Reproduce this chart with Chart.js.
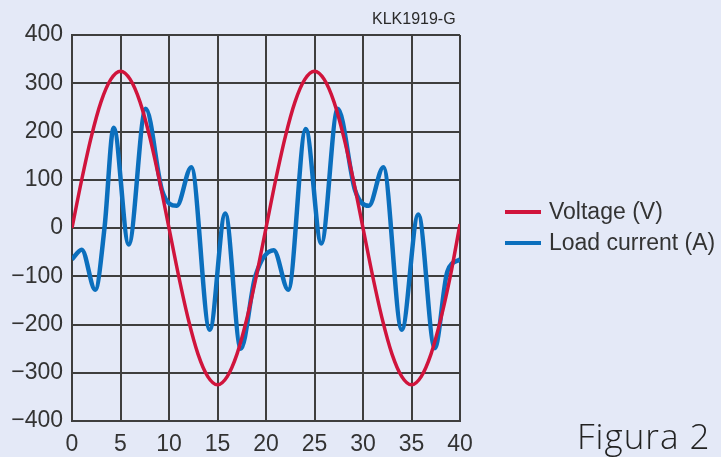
<!DOCTYPE html>
<html>
<head>
<meta charset="utf-8">
<script src="https://cdn.jsdelivr.net/npm/chart.js@4.4.0/dist/chart.umd.min.js"></script>
<style>
  html, body { margin: 0; padding: 0; background: #e4e9f7; }
  #wrap { position: relative; width: 721px; height: 457px; overflow: hidden; }
  canvas { position: absolute; left: 0; top: 0; }
  .txt { position: absolute; font-family: "Liberation Sans", Arial, Helvetica, sans-serif; color: #333; white-space: nowrap; }
  .key { position: absolute; width: 36px; height: 4px; }
</style>
</head>
<body>
<div id="wrap">
  <canvas id="chart" width="721" height="457"></canvas>
  <div class="txt" style="left:372px; top:10px; font-size:16px; color:#2a2a2a;">KLK1919-G</div>
  <div class="key" style="left:505px; top:210px; background:#d0143c;"></div>
  <div class="txt" style="left:549px; top:198px; font-size:23px;">Voltage (V)</div>
  <div class="key" style="left:505px; top:241px; background:#0b6fbd;"></div>
  <div class="txt" style="left:549px; top:229px; font-size:23px;">Load current (A)</div>
  <div class="txt" style="left:577px; top:412px; font-size:35px; letter-spacing:1px; font-family:'Open Sans', Lato, sans-serif; font-weight:300; color:#222;">Figura 2</div>
</div>
<script>
// time axis in ms
const xTicks = [0, 5, 10, 15, 20, 25, 30, 35, 40];
const yTicks = [-400, -300, -200, -100, 0, 100, 200, 300, 400];

// voltage, read every 1 ms
const voltTime = [0, 1, 2, 3, 4, 5, 6, 7, 8, 9, 10, 11, 12, 13, 14, 15, 16, 17, 18, 19, 20,
  21, 22, 23, 24, 25, 26, 27, 28, 29, 30, 31, 32, 33, 34, 35, 36, 37, 38, 39, 40];
const voltage = [0, 100, 190, 262, 308, 325, 308, 262, 190, 100, 0, -100, -190, -262, -308, -325, -308, -262, -190, -100, 0,
  100, 190, 262, 308, 325, 308, 262, 190, 100, 0, -100, -190, -262, -308, -325, -308, -262, -190, -100, 8];

// load current, read at the turning points
const currTime = [0, 1.0, 2.4, 3.35, 4.3, 5.85, 7.6, 9.3, 10.8, 12.3, 14.2, 15.8, 17.4, 18.9, 20.8,
  22.3, 24.1, 25.7, 27.4, 29.2, 30.6, 32.1, 34.0, 35.7, 37.4, 38.7, 40];
const current = [-65, -45, -128, 0, 208, -34, 247, 77, 46, 126, -211, 30, -250, -100, -46,
  -128, 205, -32, 247, 77, 46, 126, -211, 28, -249, -90, -65];

const toPoints = (xs, ys) => xs.map((x, i) => ({ x: x, y: ys[i] }));

const gridColor = "#3e3e3e";
const tickFont = { family: "'Liberation Sans', Arial, Helvetica, sans-serif", size: 23 };
// wide minus like the printed figure
const fmt = (v) => (v < 0 ? "\u2212" + Math.abs(v) : String(v));

new Chart(document.getElementById("chart"), {
  type: "line",
  data: {
    datasets: [
      {
        label: "Voltage (V)",
        data: toPoints(voltTime, voltage),
        borderColor: "#d0143c",
        borderWidth: 3.5,
        pointRadius: 0,
        cubicInterpolationMode: "monotone",
      },
      {
        label: "Load current (A)",
        data: toPoints(currTime, current),
        borderColor: "#0b6fbd",
        borderWidth: 4.5,
        pointRadius: 0,
        cubicInterpolationMode: "monotone",
      },
    ],
  },
  options: {
    responsive: false,
    devicePixelRatio: 1,
    animation: false,
    layout: { padding: { top: 35, right: 261, bottom: 0, left: 0 } },
    plugins: { legend: { display: false }, tooltip: { enabled: false } },
    scales: {
      x: {
        type: "linear",
        min: 0,
        max: 40,
        afterBuildTicks: (s) => { s.ticks = xTicks.map((v) => ({ value: v })); },
        afterFit: (s) => { s.height = 36; },
        grid: { color: gridColor, lineWidth: 2, drawTicks: false },
        border: { color: gridColor, width: 2 },
        ticks: { color: "#333", font: tickFont, padding: 10, callback: fmt },
      },
      y: {
        min: -400,
        max: 400,
        afterBuildTicks: (s) => { s.ticks = yTicks.map((v) => ({ value: v })); },
        afterFit: (s) => { s.width = 72; },
        grid: { color: gridColor, lineWidth: 2, drawTicks: false },
        border: { color: gridColor, width: 2 },
        ticks: { color: "#333", font: tickFont, padding: 9, callback: fmt },
      },
    },
  },
});
</script>
</body>
</html>
